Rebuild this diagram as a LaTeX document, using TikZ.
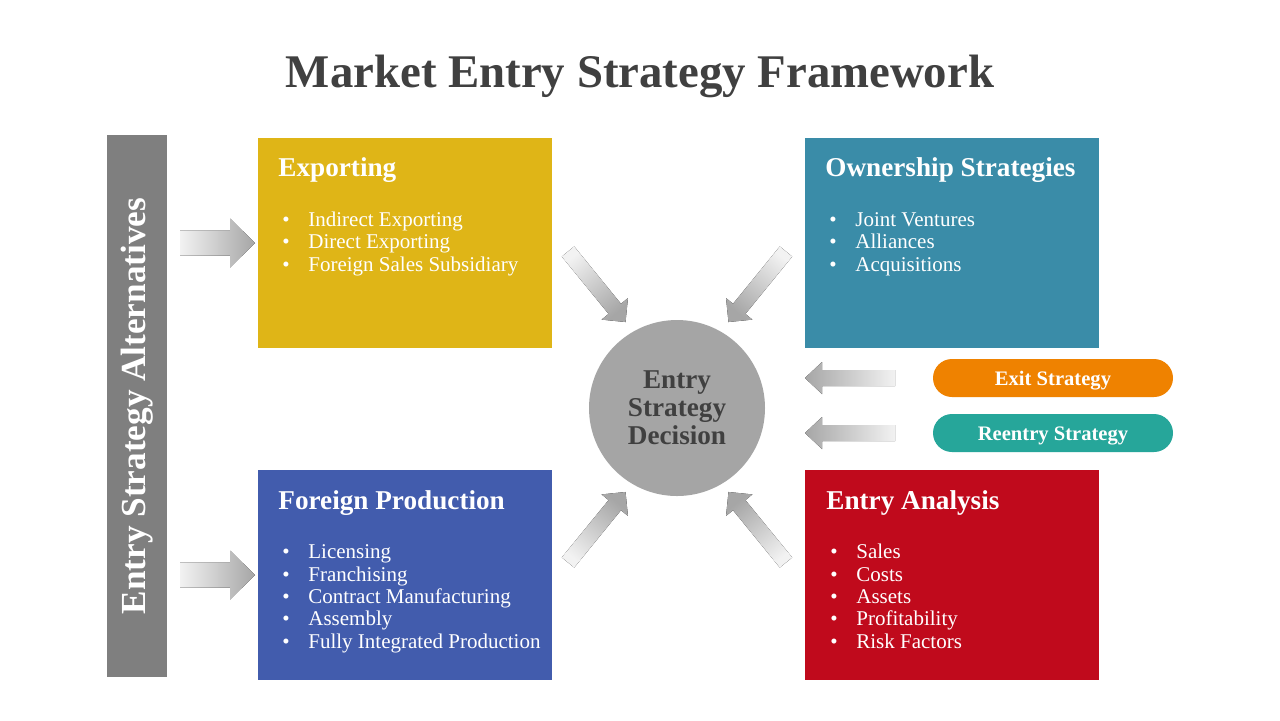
\documentclass[tikz,border=0pt]{standalone}
\usepackage{fontspec}
\setmainfont{Liberation Serif}
\definecolor{titlecol}{HTML}{404040}
\definecolor{expcol}{HTML}{DFB517}
\definecolor{owncol}{HTML}{3A8CA8}
\definecolor{forcol}{HTML}{425CAD}
\definecolor{anacol}{HTML}{C00A1C}
\definecolor{exitcol}{HTML}{EF8200}
\definecolor{reecol}{HTML}{26A69A}
\definecolor{barcol}{HTML}{7F7F7F}
\definecolor{circcol}{HTML}{A5A5A5}
\definecolor{arrlight}{HTML}{F2F2F2}
\definecolor{arrdark}{HTML}{A6A6A6}
\tikzset{
  box/.style={rectangle, inner sep=0pt, minimum width=147pt, minimum height=105pt},
  head/.style={anchor=base west, inner sep=0pt, text=white, font=\fontsize{13.6}{16}\selectfont\bfseries},
  blist/.style={anchor=base west, inner sep=0pt, text=white, align=left, font=\fontsize{10.5}{11.15}\selectfont},
  pill/.style={rounded rectangle, inner sep=0pt, minimum width=120pt, minimum height=19pt},
  pilltext/.style={anchor=base, inner sep=0pt, text=white, font=\fontsize{10.3}{12}\selectfont\bfseries},
  pics/garrow/.style n args={5}{code={
    \fill[top color=arrlight, bottom color=arrdark, shading angle=#5]
      (0,-#2) -- ({#1-#4},-#2) -- ({#1-#4},-#3) -- (#1,0) -- ({#1-#4},#3) -- ({#1-#4},#2) -- (0,#2) -- cycle;
  }}
}
\usetikzlibrary{shapes.misc}
\newcommand{\bl}[1]{\makebox[13pt][l]{\textbullet}#1}
\begin{document}
\begin{tikzpicture}[x=0.5pt,y=-0.5pt]
\useasboundingbox (0,0) rectangle (1280,720);
\fill[white] (0,0) rectangle (1280,720);
% title
\node[anchor=base, inner sep=0pt, text=titlecol, font=\fontsize{23.4}{28}\selectfont\bfseries] (title) at (640,87) {Market Entry Strategy Framework};
% side bar
\node[rectangle, fill=barcol, inner sep=0pt, minimum width=30pt, minimum height=271pt] (bar) at (137,406) {};
\node[rotate=90, inner sep=0pt, text=white, font=\fontsize{17.6}{20}\selectfont\bfseries] (bartext) at (137,406) {Entry Strategy Alternatives};
% boxes
\node[box, fill=expcol] (exp) at (405,243) {};
\node[box, fill=owncol] (own) at (952,243) {};
\node[box, fill=forcol] (for) at (405,575) {};
\node[box, fill=anacol] (ana) at (952,575) {};
% circle
\node[circle, fill=circcol, minimum size=88pt, inner sep=0pt, align=center, text=titlecol, font=\fontsize{13.6}{14}\selectfont\bfseries] (dec) at (677,408) {Entry\\Strategy\\Decision};
% headings
\node[head] (exph) at (278,176) {Exporting};
\node[head] (ownh) at (825,176) {Ownership Strategies};
\node[head] (forh) at (278,509) {Foreign Production};
\node[head] (anah) at (826,509) {Entry Analysis};
% bullet lists (anchor = baseline of last line)
\node[blist] (expl) at (282,271) {\bl{Indirect Exporting}\\\bl{Direct Exporting}\\\bl{Foreign Sales Subsidiary}};
\node[blist] (ownl) at (829,271) {\bl{Joint Ventures}\\\bl{Alliances}\\\bl{Acquisitions}};
\node[blist] (forl) at (282,648) {\bl{Licensing}\\\bl{Franchising}\\\bl{Contract Manufacturing}\\\bl{Assembly}\\\bl{Fully Integrated Production}};
\node[blist] (anal) at (830,648) {\bl{Sales}\\\bl{Costs}\\\bl{Assets}\\\bl{Profitability}\\\bl{Risk Factors}};
% pills
\node[pill, fill=exitcol] (exit) at (1053,378) {};
\node[pilltext] (exitt) at (1053,385) {Exit Strategy};
\node[pill, fill=reecol] (reent) at (1053,433) {};
\node[pilltext] (reentt) at (1053,440) {Reentry Strategy};
% arrows
\pic at (180,243) {garrow={75}{12.5}{24.5}{25}{90}};
\pic at (180,575) {garrow={75}{12.5}{24.5}{25}{90}};
\pic[rotate=180] at (895,378) {garrow={90}{8}{16}{17}{270}};
\pic[rotate=180] at (895,433) {garrow={90}{8}{16}{17}{270}};
\pic[rotate=-50.8] at (568,251.5) {garrow={91}{8}{17}{17}{39.2}};
\pic[rotate=-129.2] at (786,251.5) {garrow={91}{8}{17}{17}{-39.2}};
\pic[rotate=50.8] at (568,562.5) {garrow={91}{8}{17}{17}{140.8}};
\pic[rotate=129.2] at (786,562.5) {garrow={91}{8}{17}{17}{219.2}};
\end{tikzpicture}
\end{document}
